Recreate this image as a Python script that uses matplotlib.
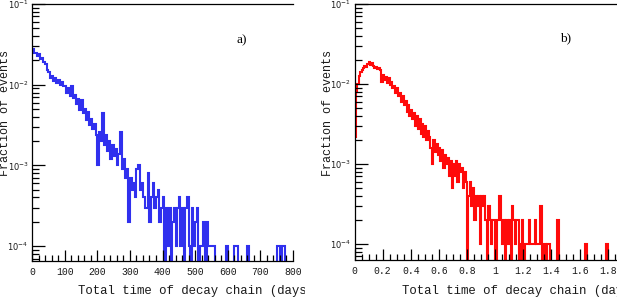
import numpy as np
import matplotlib
matplotlib.use("Agg")
import matplotlib.pyplot as plt
from matplotlib.ticker import FixedLocator, MultipleLocator, LogLocator, NullFormatter, FuncFormatter
from matplotlib.transforms import Bbox, TransformedBbox

plt.rcParams['mathtext.fontset'] = 'custom'
plt.rcParams['mathtext.rm'] = 'Liberation Mono'
plt.rcParams['mathtext.it'] = 'Liberation Mono'

N_EVENTS = 10000

# ---- panel a) : total time of decay chain in days, 5-day bins, 0-800
a_bin_width = 5.0
a_counts = [
    280, 245, 250, 225, 240, 210, 215, 190, 180, 150, 145, 120, 128, 112, 120, 105, 115, 100, 108, 96,
    95, 80, 90, 72, 95, 68, 75, 58, 66, 48, 64, 44, 50, 36, 46, 32, 38, 28, 33, 24,
    10, 26, 20, 44, 18, 24, 15, 20, 12, 18, 13, 16, 10, 14, 26, 9, 12, 7, 9, 2,
    7, 5, 6, 4, 9, 10, 5, 6, 4, 3, 3, 8, 2, 4, 6, 3, 4, 5, 2, 3,
    4, 0, 3, 1, 3, 0, 2, 3, 1, 3, 4, 1, 3, 0, 3, 4, 1, 0, 3, 1,
    2, 3, 0, 1, 1, 2, 0, 2, 1, 1, 1, 1, 0, 0, 0, 0, 0, 0, 0, 1,
    0, 0, 0, 0, 1, 1, 0, 0, 0, 0, 0, 0, 1, 0, 0, 0, 0, 0, 0, 0,
    0, 0, 0, 0, 0, 0, 0, 0, 0, 0, 1, 1, 0, 1, 1, 0, 0, 0, 0, 0,
]

# ---- panel b) : 0.01-day bins
b_bin_width = 0.01
b_counts = [
    22, 80, 100, 125, 140, 150, 160, 170, 165, 180,
    190, 175, 185, 170, 160, 165, 155, 160, 150, 105,
    130, 112, 122, 104, 118, 96, 105, 88, 95, 78,
    88, 70, 78, 60, 70, 55, 62, 45, 55, 40,
    48, 36, 44, 30, 40, 27, 36, 24, 32, 22,
    30, 20, 26, 22, 16, 10, 20, 14, 18, 13,
    16, 11, 15, 9, 13, 10, 12, 7, 11, 5,
    10, 7, 11, 6, 10, 8, 9, 5, 8, 6,
    0, 4, 6, 3, 5, 2, 4, 3, 4, 1,
    4, 3, 4, 2, 0, 3, 2, 1, 2, 2,
    0, 2, 2, 4, 2, 1, 2, 0, 2, 1,
    2, 0, 3, 2, 1, 2, 2, 0, 1, 2,
    0, 1, 1, 1, 2, 1, 1, 1, 2, 1,
    1, 1, 3, 0, 0, 1, 0, 1, 1, 0,
    0, 0, 0, 0, 2, 0, 0, 0, 0, 0,
    0, 0, 0, 0, 0, 0, 0, 0, 0, 0,
    0, 0, 0, 0, 1, 0, 0, 0, 0, 0,
    0, 0, 0, 0, 0, 0, 0, 0, 0, 1,
    0, 0, 0, 0, 0, 0,
]

a_xticks = [0, 100, 200, 300, 400, 500, 600, 700, 800]
a_xticklabels = ['0', '100', '200', '300', '400', '500', '600', '700', '800']
b_xticks = [0, 0.2, 0.4, 0.6, 0.8, 1.0, 1.2, 1.4, 1.6, 1.8]
b_xticklabels = ['0', '0.2', '0.4', '0.6', '0.8', '1', '1.2', '1.4', '1.6', '1.8']
y_ticks = [1e-4, 1e-3, 1e-2, 1e-1]

x_label = 'Total time of decay chain (days)'
y_label = 'Fraction of events'

W, H = 617, 297
fig = plt.figure(figsize=(W / 100, H / 100), dpi=100)


def px_axes(x0, x1, ytop, ybot):
    return fig.add_axes([x0 / W, 1 - ybot / H, (x1 - x0) / W, (ybot - ytop) / H])


mono = 'Liberation Mono'
tick_col = '#1a1a1a'


def style(ax, xticks, xlabels, minor_step):
    ax.set_yscale('log')
    ax.set_xticks(xticks)
    ax.set_xticklabels(xlabels, family=mono, fontsize=7, color=tick_col)
    ax.xaxis.set_minor_locator(MultipleLocator(minor_step))
    ax.yaxis.set_major_locator(FixedLocator(y_ticks))
    ax.yaxis.set_major_formatter(FuncFormatter(
        lambda v, p: r'$\mathregular{10^{%d}}$' % int(round(np.log10(v)))))
    ax.yaxis.set_minor_locator(LogLocator(base=10, subs=np.arange(2, 10), numticks=20))
    ax.yaxis.set_minor_formatter(NullFormatter())
    ax.tick_params(axis='y', which='major', labelsize=6, labelcolor=tick_col)
    ax.tick_params(which='both', direction='in', top=False, right=False, color='black', width=0.9)
    ax.tick_params(axis='x', which='major', length=8, pad=4)
    ax.tick_params(axis='x', which='minor', length=4)
    ax.tick_params(axis='y', which='major', length=9, pad=2.5)
    ax.tick_params(axis='y', which='minor', length=5)
    ax.spines['right'].set_visible(False)
    for s in ('left', 'bottom', 'top'):
        ax.spines[s].set_linewidth(0.9)


def draw_hist(ax, counts, width, color):
    counts = np.asarray(counts, dtype=float)
    edges = np.arange(len(counts) + 1) * width
    vals = np.where(counts > 0, counts / N_EVENTS, 1e-7)
    ax.stairs(vals, edges, color=color, linewidth=1.5, baseline=None)


# ---- left panel
axA = px_axes(32, 293, 4, 261)
draw_hist(axA, a_counts, a_bin_width, '#3030ee')
axA.set_xlim(0, 800)
axA.set_ylim(10 ** -4.185, 10 ** -1.0)
style(axA, a_xticks, a_xticklabels, 20)
axA.text(242 / W, 1 - 40 / H, 'a)', transform=fig.transFigure, family='Liberation Serif',
         fontsize=9.5, ha='center', va='center')

# ---- right panel
axB = px_axes(354.5, 619, 4, 260)
draw_hist(axB, b_counts, b_bin_width, '#ff0a0a')
axB.set_xlim(0, (619 - 354.5) / 140.7)
axB.set_ylim(10 ** -4.2, 10 ** -1.0)
style(axB, b_xticks, b_xticklabels, 0.05)
axB.text(566 / W, 1 - 38 / H, 'b)', transform=fig.transFigure, family='Liberation Serif',
         fontsize=9.5, ha='center', va='center')

# axis titles
tA = fig.text(78 / W, 1 - 291 / H, x_label, family=mono, fontsize=8.9, color=tick_col,
              ha='left', va='center', clip_on=True)
tA.set_clip_box(TransformedBbox(Bbox([[0, 0], [305 / W, 1]]), fig.transFigure))
tB = fig.text(402 / W, 1 - 291 / H, x_label, family=mono, fontsize=8.9, color=tick_col,
              ha='left', va='center')
fig.text(5.5 / W, 1 - 113 / H, y_label, family=mono, fontsize=8.5, color=tick_col,
         rotation=90, ha='center', va='center')
fig.text(328 / W, 1 - 113 / H, y_label, family=mono, fontsize=8.5, color=tick_col,
         rotation=90, ha='center', va='center')

fig.savefig('out.png', dpi=100)
